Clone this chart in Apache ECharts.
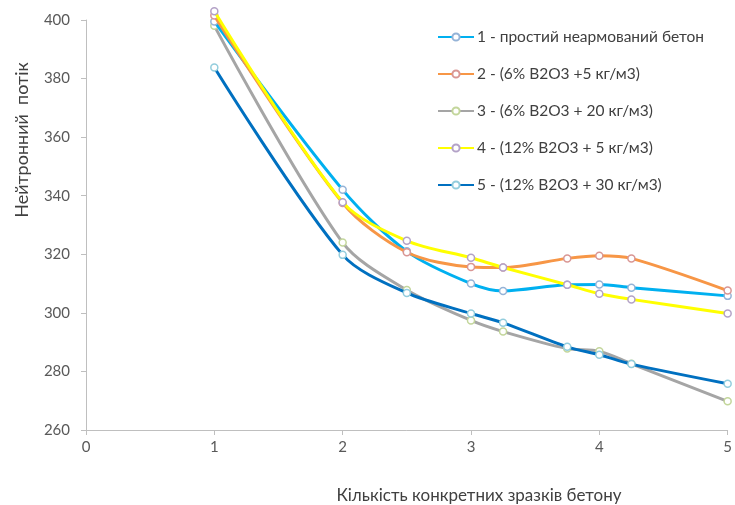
<!DOCTYPE html>
<html>
<head>
<meta charset="utf-8">
<script src="https://cdn.jsdelivr.net/npm/echarts@6/dist/echarts.min.js"></script>
<style>
  html, body { margin: 0; padding: 0; background: #fff; }
  #chart { width: 735px; height: 505px; }
</style>
</head>
<body>
<div id="chart"></div>
<script>
// Sample counts along the x axis
const samples = [1, 2, 2.5, 3, 3.25, 3.75, 4, 4.25, 5];

// Neutron flux for each concrete mix
const plainConcrete = [399.5, 342, 321, 310, 307.5, 309.6, 309.7, 308.6, 305.8];
const mix6pct5kg   = [401.5, 337.5, 320.7, 315.7, 315.5, 318.6, 319.5, 318.6, 307.6];
const mix6pct20kg  = [398, 324, 307.8, 297.4, 293.6, 287.8, 286.9, 282.6, 269.8];
const mix12pct5kg  = [403, 337.8, 324.6, 318.8, 315.5, 309.6, 306.5, 304.6, 299.8];
const mix12pct30kg = [383.8, 319.8, 306.8, 299.8, 296.6, 288.4, 285.7, 282.5, 275.8];

const seriesNames = [
  '1 - простий неармований бетон',
  '2 - (6% B2O3 +5 кг/м3)',
  '3 - (6% B2O3 + 20 кг/м3)',
  '4 - (12% B2O3 + 5 кг/м3)',
  '5 - (12% B2O3 + 30 кг/м3)'
];
const yTicks = [260, 280, 300, 320, 340, 360, 380, 400];
const xTicks = [0, 1, 2, 3, 4, 5];

const lineColors = ['#00B0F0', '#F79646', '#A5A5A5', '#FFFF00', '#0070C0'];
const markerColors = ['#95B3D7', '#D99694', '#C3D69B', '#B3A2C7', '#93CDDD'];
const seriesValues = [plainConcrete, mix6pct5kg, mix6pct20kg, mix12pct5kg, mix12pct30kg];

const FONT = 'Lato, "Open Sans", sans-serif';

const chart = echarts.init(document.getElementById('chart'), null, { renderer: 'canvas' });

const series = seriesValues.map((vals, i) => ({
  name: seriesNames[i],
  type: 'line',
  smooth: 0.3,
  clip: false,
  data: samples.map((x, k) => [x, vals[k]]),
  symbol: 'circle',
  symbolSize: 7,
  lineStyle: { color: lineColors[i], width: 3 },
  itemStyle: { color: '#ffffff', borderColor: markerColors[i], borderWidth: 1.5 },
  z: [3, 4, 2, 5, 6][i]
}));

chart.setOption({
  animation: false,
  backgroundColor: '#ffffff',
  grid: { left: 86, right: 6, top: 20, bottom: 75, containLabel: false },
  legend: {
    orient: 'vertical',
    left: 437,
    top: 29,
    padding: 0,
    itemWidth: 36,
    itemHeight: 9,
    itemGap: 21,
    data: seriesNames,
    textStyle: { fontFamily: FONT, fontSize: 15.5, lineHeight: 16, color: '#404040', padding: [0, 0, 0, -2] }
  },
  xAxis: {
    type: 'value',
    min: xTicks[0],
    max: xTicks[xTicks.length - 1],
    interval: 1,
    splitLine: { show: false },
    axisLine: { show: true, lineStyle: { color: '#BFBFBF', width: 1 } },
    axisTick: { show: true, length: 5, lineStyle: { color: '#BFBFBF' } },
    axisLabel: { margin: 10, fontFamily: FONT, fontSize: 15, color: '#595959' }
  },
  yAxis: {
    type: 'value',
    min: yTicks[0],
    max: yTicks[yTicks.length - 1],
    interval: 20,
    splitLine: { show: false },
    axisLine: { show: true, onZero: false, lineStyle: { color: '#BFBFBF', width: 1 } },
    axisTick: { show: true, length: 5, lineStyle: { color: '#BFBFBF' } },
    axisLabel: { margin: 16, fontFamily: FONT, fontSize: 15, color: '#595959' }
  },
  graphic: [
    {
      type: 'text',
      x: 22,
      y: 140,
      rotation: Math.PI / 2,
      style: {
        text: 'Нейтронний  потік',
        fontFamily: FONT,
        fontSize: 18,
        fill: '#404040',
        align: 'center',
        verticalAlign: 'middle'
      }
    },
    {
      type: 'text',
      x: 479,
      y: 496,
      style: {
        text: 'Кількість конкретних зразків бетону',
        fontFamily: FONT,
        fontSize: 17,
        fill: '#404040',
        align: 'center',
        verticalAlign: 'middle'
      }
    }
  ],
  series: series
});
</script>
</body>
</html>
